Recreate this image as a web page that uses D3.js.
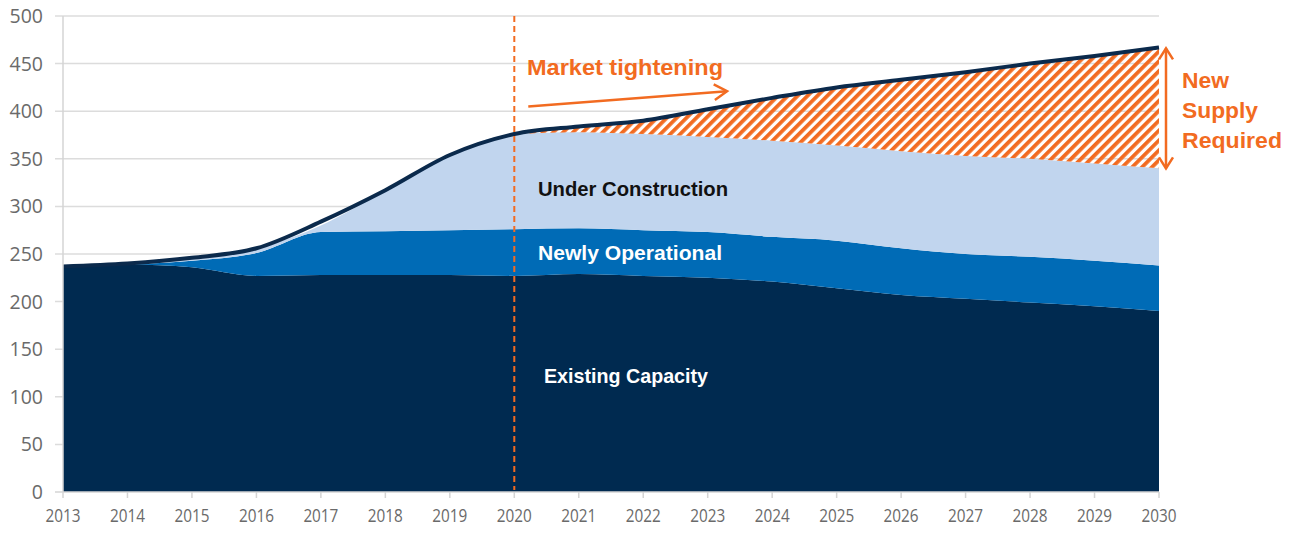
<!DOCTYPE html>
<html>
<head>
<meta charset="utf-8">
<script src="https://cdn.jsdelivr.net/npm/d3@7"></script>
<style>
  body { margin: 0; background: #fff; }
  svg text { font-family: "Liberation Sans", Arial, sans-serif; }
  svg text.tick-label { font-family: "Open Sans", sans-serif; fill: #6a6a6a; }
</style>
</head>
<body>
<div id="chart"></div>
<script>
// years on the x axis
var years = [2013,2014,2015,2016,2017,2018,2019,2020,2021,2022,2023,2024,2025,2026,2027,2028,2029,2030];

// stacked capacity layers (each layer's own thickness)
var existing     = [237,239,236,227,228,228,228,227,229,227,225,221,214,207,203,199,195,190];
var newlyOp      = [0,0,7,24,45,46,47,49,48,48,48,47,50,49,47,48,48,48];
var underConstr  = [0,1,4,5,7,43,80,100,101,101,100,101,100,102,103,103,102,102];

// demand line
var demand = [237,240,246,256,284,317,354,376,384,390,402,414,425,433,441,450,458,467];

var yTicks = [0,50,100,150,200,250,300,350,400,450,500];

var W = 1298, H = 535;
var margin = { top: 16, right: 139, bottom: 43, left: 63 };
var width = W - margin.left - margin.right,
    height = H - margin.top - margin.bottom;

var orange = "#f26b21";

var svg = d3.select("#chart").append("svg")
  .attr("width", W)
  .attr("height", H);

var defs = svg.append("defs");
var hatch = defs.append("pattern")
  .attr("id", "hatch")
  .attr("patternUnits", "userSpaceOnUse")
  .attr("width", 7)
  .attr("height", 7)
  .attr("patternTransform", "rotate(45)");
hatch.append("rect")
  .attr("width", 3.8)
  .attr("height", 7)
  .attr("fill", orange);

var g = svg.append("g")
  .attr("transform", "translate(" + margin.left + "," + margin.top + ")");

var x = d3.scaleLinear().domain([2013, 2030]).range([0, width]);
var y = d3.scaleLinear().domain([0, 500]).range([height, 0]);

// table for the stack
var table = years.map(function(yr, i) {
  return { year: yr, existing: existing[i], newly: newlyOp[i], uc: underConstr[i], demand: demand[i] };
});

var stack = d3.stack().keys(["existing", "newly", "uc"]);
var layers = stack(table);

// gridlines
g.selectAll(".grid")
  .data(yTicks.filter(function(d) { return d > 0; }))
  .enter().append("line")
  .attr("x1", -8)
  .attr("x2", width)
  .attr("y1", function(d) { return y(d); })
  .attr("y2", function(d) { return y(d); })
  .attr("stroke", "#dcdcdc")
  .attr("stroke-width", 1.5);

var area = d3.area()
  .x(function(d) { return x(d.data.year); })
  .y0(function(d) { return y(d[0]); })
  .y1(function(d) { return y(d[1]); })
  .curve(d3.curveMonotoneX);

var colors = ["#002a50", "#006bb6", "#c1d5ee"];

g.selectAll(".layer")
  .data(layers)
  .enter().append("path")
  .attr("d", area)
  .attr("fill", function(d, i) { return colors[i]; });

// hatched gap between capacity and demand, from 2020 on
var ucTop = layers[2];
var gapData = table.map(function(d, i) { return { year: d.year, lo: ucTop[i][1], hi: d.demand }; })
  .filter(function(d) { return d.year >= 2020; });

var gapArea = d3.area()
  .x(function(d) { return x(d.year); })
  .y0(function(d) { return y(d.lo); })
  .y1(function(d) { return y(d.hi); })
  .curve(d3.curveMonotoneX);

g.append("path")
  .datum(gapData)
  .attr("d", gapArea)
  .attr("fill", "url(#hatch)");

// demand line
var line = d3.line()
  .x(function(d) { return x(d.year); })
  .y(function(d) { return y(d.demand); })
  .curve(d3.curveMonotoneX);

g.append("path")
  .datum(table)
  .attr("d", line)
  .attr("fill", "none")
  .attr("stroke", "#0b2a4c")
  .attr("stroke-width", 4)
  .attr("stroke-linejoin", "round");

// axes lines
g.append("line")
  .attr("x1", 0).attr("x2", 0)
  .attr("y1", 0).attr("y2", height)
  .attr("stroke", "#d4d4d4").attr("stroke-width", 1.5);

g.append("line")
  .attr("x1", -8).attr("x2", width)
  .attr("y1", height).attr("y2", height)
  .attr("stroke", "#d4d4d4").attr("stroke-width", 1.5);

// x ticks
g.selectAll(".xtick")
  .data(years)
  .enter().append("line")
  .attr("x1", function(d) { return x(d); })
  .attr("x2", function(d) { return x(d); })
  .attr("y1", height)
  .attr("y2", height + 6)
  .attr("stroke", "#d4d4d4").attr("stroke-width", 1.5);

g.selectAll(".xlabel")
  .data(years)
  .enter().append("text")
  .attr("class", "tick-label")
  .attr("x", function(d) { return x(d); })
  .attr("y", height + 30)
  .attr("text-anchor", "middle")
  .attr("textLength", 35)
  .attr("lengthAdjust", "spacingAndGlyphs")
  .style("font-size", "19px")
  .text(function(d) { return d; });

g.selectAll(".ylabel")
  .data(yTicks)
  .enter().append("text")
  .attr("class", "tick-label")
  .attr("x", -20)
  .attr("y", function(d) { return y(d); })
  .attr("dy", "0.36em")
  .attr("text-anchor", "end")
  .style("font-size", "19.5px")
  .text(function(d) { return d; });

// dashed 2020 marker
g.append("line")
  .attr("x1", x(2020)).attr("x2", x(2020))
  .attr("y1", 0).attr("y2", height - 2)
  .attr("stroke", orange)
  .attr("stroke-width", 2)
  .attr("stroke-dasharray", "6,4");

// "Market tightening" arrow
var tx0 = x(2020) + 14, ty0 = y(405), tx1 = x(2023.3), ty1 = y(421);
g.append("line")
  .attr("x1", tx0).attr("y1", ty0)
  .attr("x2", tx1).attr("y2", ty1)
  .attr("stroke", orange).attr("stroke-width", 2.5);
var ang = Math.atan2(ty1 - ty0, tx1 - tx0);
g.append("path")
  .attr("d", "M" + (tx1 - 15 * Math.cos(ang - 0.55)) + "," + (ty1 - 15 * Math.sin(ang - 0.55)) +
             "L" + tx1 + "," + ty1 +
             "L" + (tx1 - 15 * Math.cos(ang + 0.55)) + "," + (ty1 - 15 * Math.sin(ang + 0.55)))
  .attr("fill", "none")
  .attr("stroke", orange).attr("stroke-width", 2.5);

svg.append("text")
  .attr("x", 527).attr("y", 75)
  .attr("fill", orange)
  .style("font-size", "22px").style("font-weight", "bold")
  .attr("textLength", 196).attr("lengthAdjust", "spacingAndGlyphs")
  .text("Market tightening");

// layer labels
var labels = [
  { t: "Under Construction", x: 538, y: 196, w: 190, c: "#111" },
  { t: "Newly Operational", x: 538, y: 260, w: 184, c: "#fff" },
  { t: "Existing Capacity", x: 544, y: 383, w: 164, c: "#fff" }
];
svg.selectAll(".lbl")
  .data(labels)
  .enter().append("text")
  .attr("x", function(d) { return d.x; })
  .attr("y", function(d) { return d.y; })
  .attr("fill", function(d) { return d.c; })
  .attr("textLength", function(d) { return d.w; })
  .attr("lengthAdjust", "spacingAndGlyphs")
  .style("font-size", "21px").style("font-weight", "bold")
  .text(function(d) { return d.t; });

// "New Supply Required" double arrow
var ax = x(2030) + 7;
var ayTop = y(demand[demand.length - 1]) + 1;
var ayBot = y(ucTop[ucTop.length - 1][1]);
g.append("line")
  .attr("x1", ax).attr("x2", ax)
  .attr("y1", ayTop).attr("y2", ayBot)
  .attr("stroke", orange).attr("stroke-width", 2.5);
g.append("path")
  .attr("d", "M" + (ax - 7) + "," + (ayTop + 11) + "L" + ax + "," + ayTop + "L" + (ax + 7) + "," + (ayTop + 11) +
             "M" + (ax - 7) + "," + (ayBot - 11) + "L" + ax + "," + ayBot + "L" + (ax + 7) + "," + (ayBot - 11))
  .attr("fill", "none")
  .attr("stroke", orange).attr("stroke-width", 2.5);

var rLines = [
  { t: "New", y: 88, w: 47 },
  { t: "Supply", y: 118, w: 76 },
  { t: "Required", y: 148, w: 100 }
];
svg.selectAll(".rl")
  .data(rLines)
  .enter().append("text")
  .attr("x", 1182)
  .attr("y", function(d) { return d.y; })
  .attr("fill", orange)
  .attr("textLength", function(d) { return d.w; })
  .attr("lengthAdjust", "spacingAndGlyphs")
  .style("font-size", "22px").style("font-weight", "bold")
  .text(function(d) { return d.t; });
</script>
</body>
</html>
